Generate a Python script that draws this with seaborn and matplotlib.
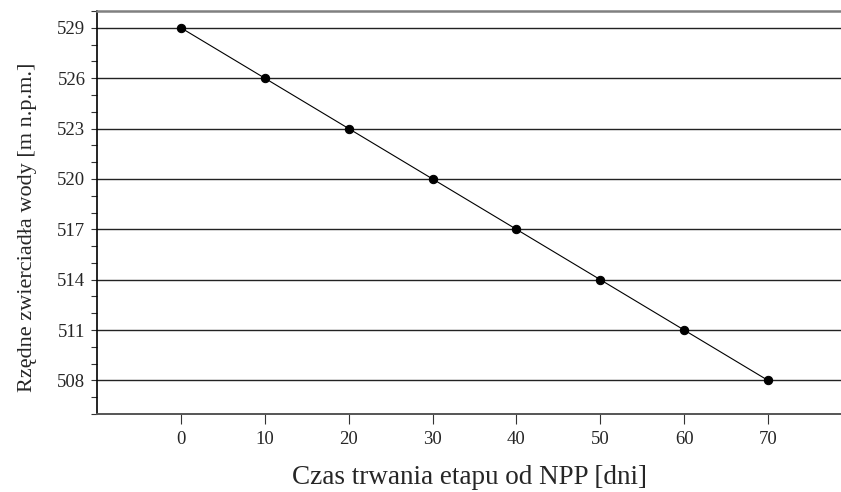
import matplotlib
matplotlib.use("Agg")
import matplotlib.pyplot as plt
import seaborn as sns
import pandas as pd
from matplotlib.ticker import MultipleLocator

days = [0, 10, 20, 30, 40, 50, 60, 70]
levels = [529, 526, 523, 520, 517, 514, 511, 508]
y_ticks = [508, 511, 514, 517, 520, 523, 526, 529]
x_ticks = [0, 10, 20, 30, 40, 50, 60, 70]

df = pd.DataFrame({"days": days, "level": levels})

sns.set_style("white")
plt.rcParams['font.family'] = ['Liberation Serif', 'DejaVu Serif']

fig = plt.figure(figsize=(8.41, 4.92), dpi=100)
ax = fig.add_axes([97/841, 78/492, 1 - 97/841, (414-11)/492])

sns.lineplot(data=df, x="days", y="level", ax=ax, color="black", linewidth=0.8,
             marker="o", markersize=6, markeredgecolor="black", markerfacecolor="black", zorder=3)

ax.set_xlim(-10, 78.7)
ax.set_ylim(506, 530)
ax.set_xticks(x_ticks)
ax.set_yticks(y_ticks)
ax.yaxis.set_minor_locator(MultipleLocator(1))
ax.yaxis.grid(True, which="major", color="#222222", linewidth=1.0)
ax.xaxis.grid(False)
ax.set_axisbelow(True)

ax.tick_params(axis="x", which="major", direction="out", length=7.5, width=0.8, color="#333333",
               pad=4.5, labelsize=13.5, bottom=True)
ax.tick_params(axis="y", which="both", direction="out", length=4.3, width=0.8, color="#333333",
               pad=4, labelsize=13.5, left=True)

ax.spines["right"].set_visible(False)
ax.spines["left"].set_color("black")
ax.spines["left"].set_linewidth(1.2)
ax.spines["bottom"].set_color("#555555")
ax.spines["bottom"].set_linewidth(1.4)
ax.spines["top"].set_color("#808080")
ax.spines["top"].set_linewidth(1.8)

ax.set_xlabel("Czas trwania etapu od NPP [dni]", fontsize=19.5)
ax.set_ylabel("Rzędne zwierciadła wody [m n.p.m.]", fontsize=16)
ax.xaxis.set_label_coords(0.5, -0.126)
ax.yaxis.set_label_coords(-0.0806, 0.463)

fig.savefig("out.png", dpi=100)
